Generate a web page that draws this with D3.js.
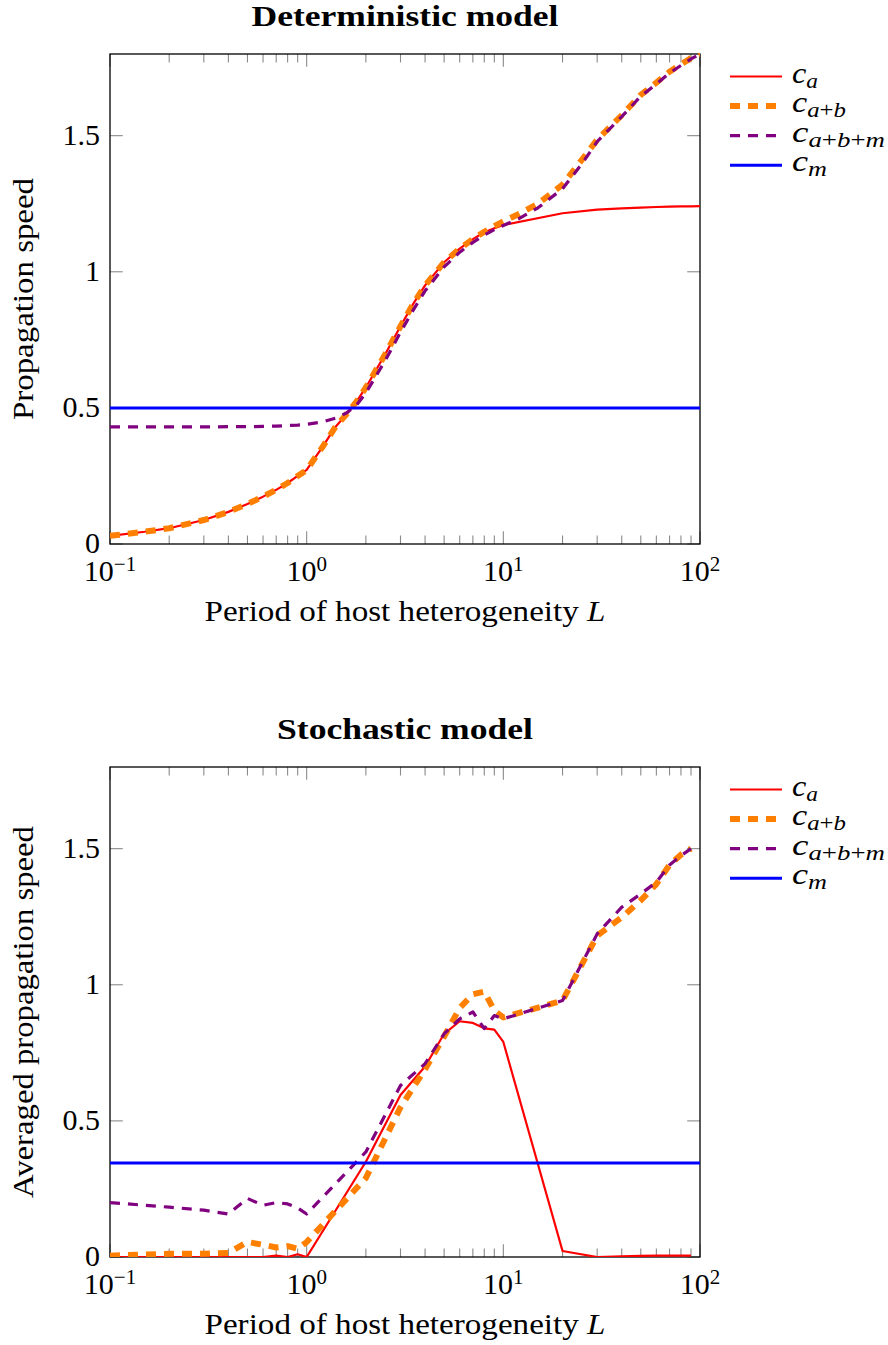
<!DOCTYPE html>
<html><head><meta charset="utf-8">
<script src="https://cdn.jsdelivr.net/npm/d3@7"></script>
<style>body{margin:0;background:#fff} svg{display:block}</style>
</head><body>
<svg id="chart" width="888" height="1345"></svg>
<script>
// ---------- DATA ----------
const xTickValues = [0.1, 1, 10, 100];
const xTickExps = ["\u22121", "0", "1", "2"];
const yTickValues = [0, 0.5, 1, 1.5];
const yTickLabels = ["0", "0.5", "1", "1.5"];

// Deterministic model
const detL_a = [0.1,0.15,0.2,0.3,0.4,0.5,0.6,0.7,0.8,0.9,1,1.2,1.4,1.6,1.8,2,2.5,3,3.5,4,5,6,7,8,9,10,20,30,40,50,60,70,80,90,100];
const det_ca = [0.030,0.045,0.058,0.088,0.118,0.147,0.174,0.199,0.224,0.250,0.272,0.355,0.430,0.478,0.525,0.575,0.695,0.800,0.885,0.950,1.035,1.085,1.120,1.145,1.160,1.172,1.215,1.228,1.233,1.236,1.238,1.239,1.240,1.240,1.241];
const detL_b = [0.1,0.15,0.2,0.3,0.4,0.5,0.6,0.7,0.8,0.9,1,1.2,1.4,1.6,1.8,2,2.5,3,3.5,4,5,6,7,8,9,10,12,15,20,25,30,40,50,60,70,80,90,100];
const det_cab = [0.030,0.045,0.058,0.088,0.118,0.147,0.174,0.199,0.224,0.250,0.272,0.355,0.430,0.478,0.525,0.575,0.695,0.800,0.885,0.950,1.035,1.085,1.120,1.147,1.168,1.185,1.212,1.250,1.320,1.410,1.485,1.575,1.650,1.695,1.735,1.762,1.785,1.800];
const det_cabm = [0.430,0.430,0.430,0.430,0.431,0.431,0.432,0.433,0.435,0.437,0.440,0.448,0.462,0.482,0.512,0.555,0.672,0.778,0.862,0.930,1.018,1.072,1.108,1.135,1.155,1.170,1.195,1.235,1.305,1.395,1.478,1.570,1.645,1.690,1.730,1.758,1.782,1.800];
const det_cm = 0.5;

// Stochastic model
const stoL = [0.1,0.2,0.3,0.4,0.5,0.6,0.7,0.8,0.9,1,2,3,4,5,6,7,8,9,10,20,30,40,50,60,70,80,90];
const sto_ca = [0,0,0,0,0,0,0.005,0,0.01,0,0.35,0.595,0.70,0.82,0.866,0.86,0.84,0.835,0.79,0.022,0,0.002,0.004,0.005,0.005,0.005,0.005];
const sto_cab = [0.005,0.012,0.012,0.015,0.055,0.045,0.035,0.04,0.03,0.055,0.29,0.55,0.69,0.81,0.915,0.965,0.975,0.905,0.88,0.942,1.18,1.248,1.31,1.37,1.44,1.478,1.50];
const sto_cabm = [0.20,0.183,0.172,0.158,0.215,0.19,0.20,0.195,0.18,0.158,0.386,0.63,0.71,0.82,0.875,0.90,0.839,0.887,0.875,0.942,1.187,1.285,1.334,1.377,1.44,1.474,1.50];
const sto_cm = 0.345;

const legendSubs = [["a"], ["a","+","b"], ["a","+","b","+","m"], ["m"]];

// ---------- STYLE ----------
const FONT = "Liberation Serif";
const styles = [
  {color:"#ff0000", width:2.2, dash:null},
  {color:"#ff8000", width:6, dash:"10,8"},
  {color:"#800080", width:3.2, dash:"10,8"},
  {color:"#0000ff", width:3, dash:null}
];
const legendLens = [26, 54, 93, 35];

const svg = d3.select("#chart");

function drawPanel(cfg, idx) {
  const left = 110, right = 700, top = cfg.top, bottom = cfg.top + 490;
  const x = d3.scaleLog().domain([0.1, 100]).range([left, right]);
  const y = d3.scaleLinear().domain([0, 1.8]).range([bottom, top]);
  const g = svg.append("g");

  // ticks (inward, all four sides)
  const tickColor = "#8a8a8a";
  x.ticks().forEach(v => {
    const lv = Math.log10(v);
    const major = Math.abs(lv - Math.round(lv)) < 1e-9;
    const len = major ? 12.8 : 8.5;
    g.append("line").attr("x1", x(v)).attr("x2", x(v)).attr("y1", bottom).attr("y2", bottom - len)
      .attr("stroke", tickColor).attr("stroke-width", 1.1);
    g.append("line").attr("x1", x(v)).attr("x2", x(v)).attr("y1", top).attr("y2", top + len)
      .attr("stroke", tickColor).attr("stroke-width", 1.1);
  });
  yTickValues.forEach(v => {
    g.append("line").attr("x1", left).attr("x2", left + 12.8).attr("y1", y(v)).attr("y2", y(v))
      .attr("stroke", tickColor).attr("stroke-width", 1.1);
    g.append("line").attr("x1", right).attr("x2", right - 12.8).attr("y1", y(v)).attr("y2", y(v))
      .attr("stroke", tickColor).attr("stroke-width", 1.1);
  });

  // frame
  g.append("rect").attr("x", left).attr("y", top).attr("width", right - left).attr("height", bottom - top)
    .attr("fill", "none").attr("stroke", "#000").attr("stroke-width", 1.3);

  // clip
  const clipId = "clip" + idx;
  svg.append("clipPath").attr("id", clipId).append("rect")
    .attr("x", left).attr("y", top - 1).attr("width", right - left).attr("height", bottom - top + 1);
  const plot = g.append("g").attr("clip-path", `url(#${clipId})`);

  const line = d3.line().x(d => x(d[0])).y(d => y(d[1]));
  cfg.series.forEach((s, i) => {
    const st = styles[i];
    const pts = s.L.map((L, k) => [L, s.v[k]]);
    const p = plot.append("path").attr("d", line(pts)).attr("fill", "none")
      .attr("stroke", st.color).attr("stroke-width", st.width).attr("stroke-linejoin", "round");
    if (st.dash) p.attr("stroke-dasharray", st.dash);
  });

  // x tick labels
  xTickValues.forEach((v, i) => {
    const t = g.append("text").attr("x", x(v)).attr("y", bottom + 37).attr("text-anchor", "middle")
      .attr("font-family", FONT).attr("font-size", 30).attr("fill", "#000");
    t.append("tspan").text("10");
    t.append("tspan").attr("font-size", 21).attr("dy", -10).text(xTickExps[i]);
  });
  // y tick labels
  yTickValues.forEach((v, i) => {
    g.append("text").attr("x", 100).attr("y", y(v) + 9).attr("text-anchor", "end")
      .attr("font-family", FONT).attr("font-size", 30).attr("fill", "#000").text(yTickLabels[i]);
  });

  // title
  g.append("text").attr("x", 405).attr("y", top - 28).attr("text-anchor", "middle")
    .attr("font-family", FONT).attr("font-size", 30).attr("font-weight", "bold")
    .attr("textLength", cfg.titleLen).attr("lengthAdjust", "spacingAndGlyphs").text(cfg.title);

  // x label
  const xl = g.append("text").attr("x", 405).attr("y", bottom + 77).attr("text-anchor", "middle")
    .attr("font-family", FONT).attr("font-size", 30)
    .attr("textLength", 401).attr("lengthAdjust", "spacingAndGlyphs");
  xl.append("tspan").text("Period of host heterogeneity ");
  xl.append("tspan").attr("font-style", "italic").text("L");

  // y label
  g.append("text").attr("transform", `translate(33,${(top + bottom) / 2}) rotate(-90)`)
    .attr("text-anchor", "middle").attr("font-family", FONT).attr("font-size", 30)
    .attr("textLength", cfg.ylabelLen).attr("lengthAdjust", "spacingAndGlyphs").text(cfg.ylabel);

  // legend
  const legY0 = top + 22.5, legDy = 29.6;
  legendSubs.forEach((subs, i) => {
    const ly = legY0 + i * legDy;
    const st = styles[i];
    const l = g.append("line").attr("x1", 730).attr("x2", 782).attr("y1", ly).attr("y2", ly)
      .attr("stroke", st.color).attr("stroke-width", st.width);
    if (st.dash) l.attr("stroke-dasharray", st.dash);
    const t = g.append("text").attr("x", 792).attr("y", ly + 6).attr("font-family", FONT)
      .attr("font-size", 29).attr("fill", "#000")
      .attr("textLength", legendLens[i]).attr("lengthAdjust", "spacingAndGlyphs");
    t.append("tspan").attr("font-style", "italic").text("c");
    subs.forEach((s, k) => {
      const ts = t.append("tspan").attr("font-size", 21).text(s);
      if (s !== "+") ts.attr("font-style", "italic");
      if (k === 0) ts.attr("dy", 5);
    });
  });
}

drawPanel({
  top: 54, title: "Deterministic model", titleLen: 307, ylabel: "Propagation speed", ylabelLen: 242,
  series: [
    {L: detL_a, v: det_ca},
    {L: detL_b, v: det_cab},
    {L: detL_b, v: det_cabm},
    {L: [0.1, 100], v: [det_cm, det_cm]}
  ]
}, 0);

drawPanel({
  top: 767, title: "Stochastic model", titleLen: 256, ylabel: "Averaged propagation speed", ylabelLen: 372,
  series: [
    {L: stoL, v: sto_ca},
    {L: stoL, v: sto_cab},
    {L: stoL, v: sto_cabm},
    {L: [0.1, 100], v: [sto_cm, sto_cm]}
  ]
}, 1);
</script>
</body></html>
